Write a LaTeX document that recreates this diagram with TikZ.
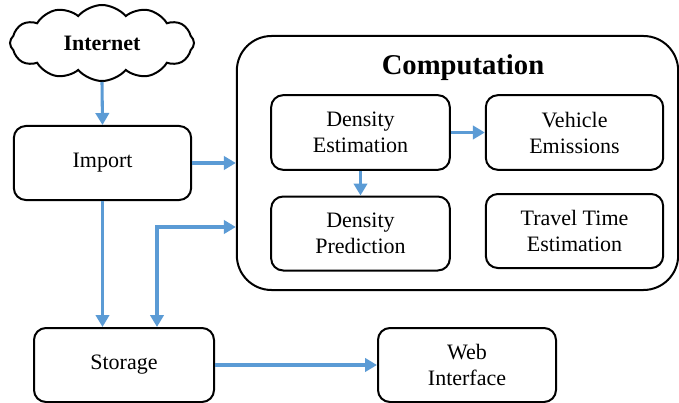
\documentclass[tikz,border=0pt]{standalone}
\usepackage{fontspec}
\setmainfont{Liberation Serif}
\usetikzlibrary{shapes.symbols,arrows.meta}
\definecolor{flowblue}{RGB}{91,155,213}
\tikzset{
  block/.style={draw, line width=1.5pt, rounded corners=9pt, align=center, inner sep=0pt,
    font=\rmfamily\fontsize{16.5}{19.5}\selectfont},
  flow/.style={draw=flowblue, line width=2.3pt, -{Triangle[length=9pt,width=10pt]}},
}
\begin{document}
\begin{tikzpicture}[x=0.75pt,y=-0.75pt]
      \useasboundingbox (0,0) rectangle (679,403);
      % blocks
      \node[cloud, draw, line width=1.5pt, cloud puffs=12, cloud puff arc=100, aspect=2.4,
        minimum width=138pt, minimum height=57pt, inner sep=0pt,
        font=\rmfamily\fontsize{16.5}{19.5}\selectfont\bfseries] (internet) at (102,43) {Internet};
      \node[block, minimum width=133pt, minimum height=55.5pt] (import) at (102.5,163) {Import};
      \node[block, rounded corners=26pt, minimum width=331pt, minimum height=190.5pt] (comp) at (457.5,163) {};
      \node[font=\rmfamily\fontsize{21.5}{24}\selectfont\bfseries] (comptitle) at (463,68) {Computation};
      \node[block, minimum width=134pt, minimum height=56pt] (dest) at (360.5,132.5) {Density\\Estimation};
      \node[block, minimum width=133pt, minimum height=56pt] (vem) at (574.5,132.5) {Vehicle\\Emissions};
      \node[block, minimum width=134pt, minimum height=55.5pt] (dpred) at (360.5,233.5) {Density\\Prediction};
      \node[block, minimum width=133pt, minimum height=55.5pt] (ttime) at (574.5,231) {Travel Time\\Estimation};
      \node[block, minimum width=135pt, minimum height=55.5pt] (storage) at (124,365) {Storage};
      \node[block, minimum width=133.5pt, minimum height=55.5pt] (web) at (467,365) {Web\\Interface};
      \coordinate (bend) at (157,227);
      % connectors
      \begin{scope}[flow]
        \draw (internet.south) -- (import.north);
        \draw (import.east) -- (comp.west);
        \draw (import.south) -- (storage.north -| import.south);
        \draw[{Triangle[length=9pt,width=10pt]}-{Triangle[length=9pt,width=10pt]}]
          (bend -| comp.west) -- (bend) -- (bend |- storage.north);
        \draw (dest.east) -- (vem.west);
        \draw (dest.south) -- (dpred.north);
        \draw (storage.east) -- (web.west);
      \end{scope}
    \end{tikzpicture}
\end{document}
